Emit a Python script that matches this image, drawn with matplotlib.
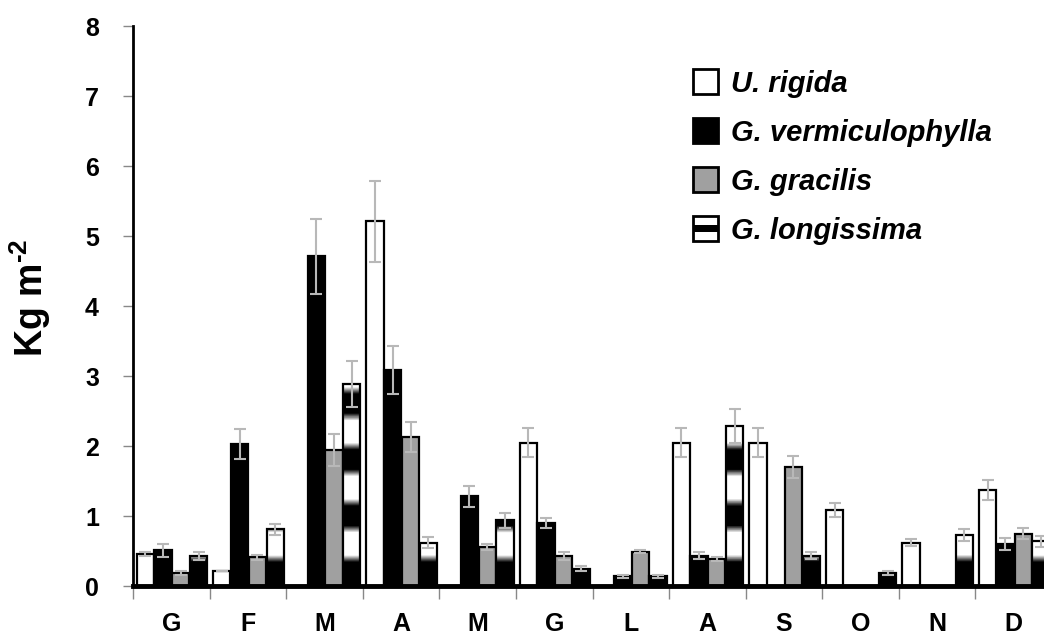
import numpy as np
import matplotlib
matplotlib.use("Agg")
import matplotlib.pyplot as plt
from matplotlib.patches import Patch, Rectangle
from matplotlib.legend_handler import HandlerBase

plt.rcParams['font.family'] = ['Liberation Sans', 'DejaVu Sans']
plt.rcParams['mathtext.fontset'] = 'custom'
plt.rcParams['mathtext.rm'] = 'Liberation Sans:bold'
plt.rcParams['mathtext.it'] = 'Liberation Sans:bold'

months = ['G', 'F', 'M', 'A', 'M', 'G', 'L', 'A', 'S', 'O', 'N', 'D']
species = ['U. rigida', 'G. vermiculophylla', 'G. gracilis', 'G. longissima']

u_rigida = [0.46, 0.22, 0, 5.21, 0, 2.05, 0, 2.05, 2.05, 1.08, 0.62, 1.37]
u_rigida_err = [0.03, 0, 0, 0.58, 0, 0.21, 0, 0.21, 0.21, 0.10, 0.05, 0.14]
g_verm = [0.51, 2.03, 4.71, 3.09, 1.28, 0.90, 0.14, 0.43, 0, 0, 0, 0.60]
g_verm_err = [0.09, 0.21, 0.54, 0.34, 0.15, 0.07, 0.02, 0.05, 0, 0, 0, 0.09]
g_grac = [0.19, 0.41, 1.94, 2.13, 0.56, 0.43, 0.49, 0.39, 1.70, 0, 0, 0.75]
g_grac_err = [0.03, 0.04, 0.23, 0.21, 0.04, 0.06, 0.02, 0.03, 0.16, 0, 0, 0.08]
g_long = [0.43, 0.81, 2.89, 0.62, 0.94, 0.25, 0.14, 2.29, 0.43, 0.19, 0.73, 0.64]
g_long_err = [0.06, 0.08, 0.33, 0.08, 0.11, 0.03, 0.02, 0.24, 0.05, 0.03, 0.08, 0.08]


def band_shade(h):
    # soft banded gradient of the G. longissima bars
    h = np.maximum(h, 0.2)
    return np.clip(0.6 - 1.3 * np.cos(2 * np.pi * (h - 0.2) / 0.8), 0, 1)


class StripeHandler(HandlerBase):
    def create_artists(self, legend, orig_handle, xdescent, ydescent,
                       width, height, fontsize, trans):
        box = Rectangle((-xdescent, -ydescent), width, height, fc='white',
                        ec='black', lw=2, transform=trans)
        band = Rectangle((-xdescent, -ydescent + height * 0.36), width,
                         height * 0.28, fc='black', ec='none', transform=trans)
        return [box, band]


fig = plt.figure(figsize=(10.44, 6.39), dpi=100)
ax = fig.add_axes([133 / 1044, 53 / 639, 919 / 1044, 560 / 639])

x = np.arange(len(months))
w = 0.225
offs = [0.16, 0.392, 0.624, 0.856]
err_kw = dict(ecolor='#b8b8b8', elinewidth=1.5, capsize=4.5, capthick=1.5)

ax.bar(x + offs[0], u_rigida, w, yerr=u_rigida_err, color='white',
       edgecolor='black', linewidth=1.6, error_kw=err_kw, zorder=2)
ax.bar(x + offs[1], g_verm, w, yerr=g_verm_err, color='black',
       edgecolor='black', linewidth=1.6, error_kw=err_kw, zorder=2)
ax.bar(x + offs[2], g_grac, w, yerr=g_grac_err, color='#a0a0a0',
       edgecolor='black', linewidth=1.6, error_kw=err_kw, zorder=2)
long_bars = ax.bar(x + offs[3], g_long, w, yerr=g_long_err, color='none',
                   edgecolor='black', linewidth=1.6, error_kw=err_kw, zorder=3)

for b in long_bars:
    hgt = b.get_height()
    if hgt <= 0:
        continue
    hh = np.linspace(0, hgt, 400)
    img = np.repeat(band_shade(hh)[:, None], 2, axis=1)
    im = ax.imshow(img, cmap='gray', vmin=0, vmax=1, origin='lower',
                   aspect='auto', interpolation='nearest',
                   extent=[b.get_x(), b.get_x() + b.get_width(), 0, hgt],
                   zorder=2)
    im.set_clip_path(b)

ax.set_xlim(0, 12)
ax.set_ylim(0, 8)
ax.set_aspect('auto')

ax.spines['top'].set_visible(False)
ax.spines['right'].set_visible(False)
ax.spines['left'].set_linewidth(2)
ax.spines['bottom'].set_linewidth(3.5)
ax.spines['bottom'].set_zorder(5)

ax.set_yticks(range(0, 9))
ax.tick_params(axis='y', length=7.5, width=1, color='#888888', pad=17,
               labelsize=18)
for t in ax.get_yticklabels():
    t.set_fontweight('bold')

ax.set_xticks(np.arange(0, 13))
ax.set_xticklabels([])
ax.tick_params(axis='x', which='major', length=9, width=1, color='#888888')
ax.set_xticks(x + 0.5, minor=True)
ax.set_xticklabels(months, minor=True, fontsize=18, fontweight='bold')
ax.tick_params(axis='x', which='minor', length=0, pad=19)

ax.set_ylabel(r'Kg m$^{\text{-2}}$', fontsize=27, fontweight='bold')
ax.yaxis.set_label_coords(-80 / 919, 0.515)

handles = [Patch(fc='white', ec='black', lw=2),
           Patch(fc='black', ec='black', lw=2),
           Patch(fc='#a0a0a0', ec='black', lw=2),
           Patch(fc='white', ec='black')]
leg = fig.legend(handles, species, loc='upper left',
                 bbox_to_anchor=(693 / 1044, 1 - 69 / 639), frameon=False,
                 prop=dict(family='Liberation Sans', weight='bold',
                           style='italic', size=21),
                 handlelength=0.85, handleheight=0.95, handletextpad=0.45,
                 labelspacing=0.7, borderpad=0, borderaxespad=0,
                 handler_map={handles[3]: StripeHandler()})

fig.savefig('out.png', dpi=100)
